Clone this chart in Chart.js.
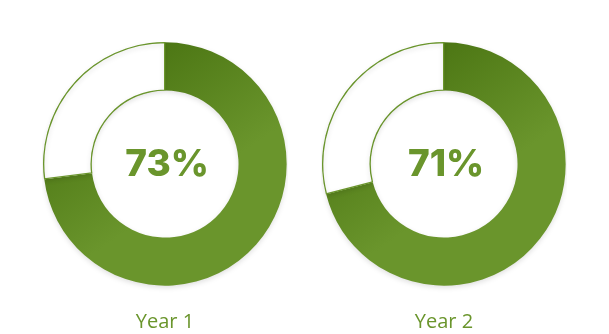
<!DOCTYPE html>
<html>
<head>
<meta charset="utf-8">
<script src="https://cdn.jsdelivr.net/npm/chart.js@4.4.1/dist/chart.umd.min.js"></script>
<style>
  html, body { margin: 0; padding: 0; background: #ffffff; }
  body { width: 609px; height: 334px; position: relative; overflow: hidden; }
  .box { position: absolute; top: 42px; width: 246px; height: 292px; }
  #box1 { left: 42px; }
  #box2 { left: 321px; }
</style>
</head>
<body>
<div class="box" id="box1"><canvas id="c1"></canvas></div>
<div class="box" id="box2"><canvas id="c2"></canvas></div>
<script>
const categories = ["Year 1", "Year 2"];
const percentValues = [73, 71];
const remainderValues = [27, 29];
const centerLabels = ["73%", "71%"];

const GREEN = "#6a952c";
const DARK = "#46700f";

const centerTextPlugin = {
  id: "centerText",
  afterDatasetsDraw(chart, args, opts) {
    const meta = chart.getDatasetMeta(0);
    if (!meta.data.length) return;
    const arc = meta.data[0];
    const ctx = chart.ctx;
    ctx.save();
    ctx.font = "800 37px Inter";
    ctx.fillStyle = GREEN;
    ctx.textAlign = "center";
    ctx.textBaseline = "alphabetic";
    ctx.fillText(opts.text, arc.x + 2, arc.y + 12);
    ctx.restore();
  }
};

const shadowPlugin = {
  id: "ringShadow",
  beforeDatasetsDraw(chart) {
    const ctx = chart.ctx;
    ctx.save();
    ctx.shadowColor = "rgba(0,0,0,0.12)";
    ctx.shadowBlur = 5;
    ctx.shadowOffsetY = 2;
  },
  afterDatasetsDraw(chart) {
    chart.ctx.restore();
  }
};

function makeChart(id, idx) {
  return new Chart(document.getElementById(id), {
    type: "doughnut",
    data: {
      labels: ["Value", "Remainder"],
      datasets: [{
        data: [percentValues[idx], remainderValues[idx]],
        backgroundColor(context) {
          if (context.dataIndex === 1) return "#ffffff";
          const chart = context.chart;
          const a = chart.chartArea;
          if (!a) return GREEN;
          const cx = (a.left + a.right) / 2, cy = (a.top + a.bottom) / 2;
          const r = Math.min(a.right - a.left, a.bottom - a.top) / 2;
          const g = chart.ctx.createLinearGradient(cx - r * 0.4, cy - r, cx + r * 0.35, cy + r * 0.1);
          g.addColorStop(0, DARK);
          g.addColorStop(1, GREEN);
          return g;
        },
        borderColor: [GREEN, GREEN],
        borderWidth: [0, 1],
        borderAlign: "inner",
        hoverOffset: 0
      }]
    },
    options: {
      responsive: true,
      maintainAspectRatio: false,
      animation: false,
      cutout: "60%",
      rotation: 0,
      events: [],
      layout: { padding: 0 },
      plugins: {
        legend: { display: false },
        tooltip: { enabled: false },
        title: {
          display: true,
          text: categories[idx],
          position: "bottom",
          color: GREEN,
          font: { family: "'Open Sans'", size: 20, weight: "500", lineHeight: 1.2 },
          padding: { top: 24, bottom: 0 }
        },
        centerText: { text: centerLabels[idx] }
      }
    },
    plugins: [shadowPlugin, centerTextPlugin]
  });
}

makeChart("c1", 0);
makeChart("c2", 1);
</script>
</body>
</html>
